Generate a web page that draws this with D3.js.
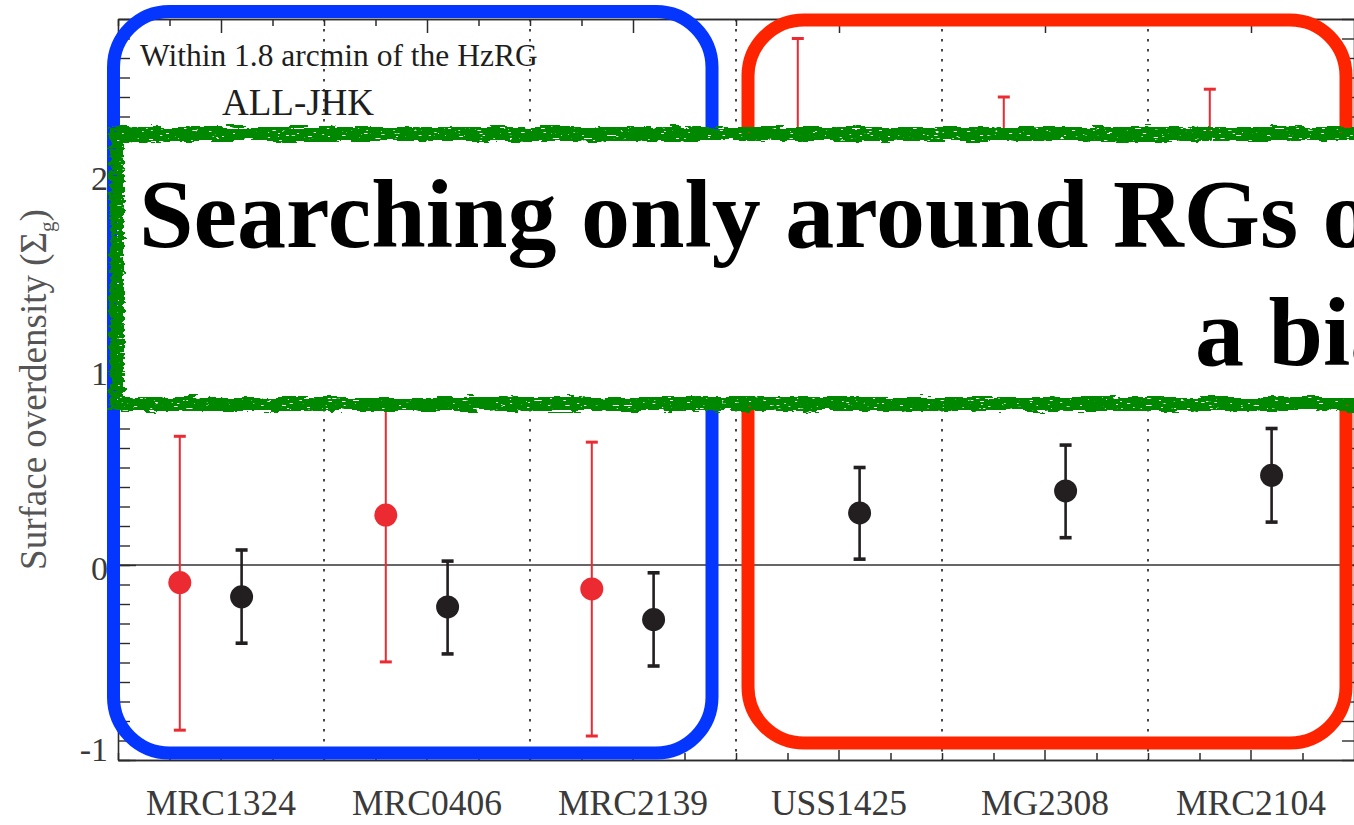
<!DOCTYPE html>
<html>
<head>
<meta charset="utf-8">
<script src="https://cdn.jsdelivr.net/npm/d3@7"></script>
<style>
  html, body { margin: 0; padding: 0; background: #fff; overflow: hidden; }
  svg { display: block; }
</style>
</head>
<body>
<svg id="chart" width="1354" height="825"></svg>
<script>
// Radio-galaxy fields along the x axis
const categories = ["MRC1324", "MRC0406", "MRC2139", "USS1425", "MG2308", "MRC2104"];

// Red sample: overdensity and the ends of its error bar
const redValues = [-0.09, 0.256, -0.123, 1.95, 1.66, 1.70];
const redLow    = [-0.847, -0.497, -0.877, 1.20, 0.92, 0.96];
const redHigh   = [0.66, 1.01, 0.63, 2.70, 2.40, 2.44];

// Black sample: overdensity and the ends of its error bar
const blackValues = [-0.163, -0.215, -0.28, 0.267, 0.38, 0.46];
const blackLow    = [-0.401, -0.456, -0.518, 0.03, 0.14, 0.22];
const blackHigh   = [0.077, 0.02, -0.04, 0.50, 0.615, 0.70];

const yTickValues = [-1, 0, 1, 2];
const yLabel = "Surface overdensity (Σ";
const ySub = "g";
const annotation1 = "Within 1.8 arcmin of the HzRG";
const annotation2 = "ALL-JHK";
const calloutLines = ["Searching only around RGs or QSOs", "a bias"];

(function draw() {
  const plotL = 118, plotR = 1354, plotT = 19, plotB = 760;

  const svg = d3.select("#chart");
  const serif = "'Liberation Serif', 'Times New Roman', serif";

  const x = d3.scaleBand().domain(categories).range([plotL, plotR]).padding(0);
  const bw = x.bandwidth();
  const xq = d3.scaleLinear().domain([0, categories.length]).range([plotL, plotR]);
  const y = d3.scaleLinear().domain([-1, 2.8]).range([plotB, plotT]);

  // hand-drawn marker look for the callout outline
  const defs = svg.append("defs");
  const f = defs.append("filter").attr("id", "rough")
    .attr("filterUnits", "userSpaceOnUse")
    .attr("x", 60).attr("y", 90).attr("width", 1400).attr("height", 360);
  f.append("feTurbulence").attr("type", "fractalNoise")
    .attr("baseFrequency", "0.05 0.25").attr("numOctaves", 3).attr("seed", 3).attr("result", "n");
  f.append("feDisplacementMap").attr("in", "SourceGraphic").attr("in2", "n")
    .attr("scale", 9).attr("xChannelSelector", "R").attr("yChannelSelector", "G").attr("result", "d");
  f.append("feTurbulence").attr("type", "fractalNoise")
    .attr("baseFrequency", "0.15 0.6").attr("numOctaves", 2).attr("seed", 11).attr("result", "n2");
  f.append("feColorMatrix").attr("in", "n2").attr("type", "matrix")
    .attr("values", "0 0 0 0 0  0 0 0 0 0  0 0 0 0 0  18 0 0 0 -12.6").attr("result", "holes");
  f.append("feComposite").attr("in", "d").attr("in2", "holes").attr("operator", "out");

  const axisColor = "#2b2b2b";
  const plot = svg.append("g");

  // dotted separators between fields
  plot.append("g").selectAll("line")
    .data(categories.slice(1))
    .join("line")
    .attr("x1", d => x(d)).attr("x2", d => x(d))
    .attr("y1", plotT).attr("y2", plotB)
    .attr("stroke", "#333").attr("stroke-width", 1.8)
    .attr("stroke-dasharray", "2.5,7.5");

  // zero line
  plot.append("line")
    .attr("x1", plotL).attr("x2", plotR)
    .attr("y1", y(0)).attr("y2", y(0))
    .attr("stroke", "#333").attr("stroke-width", 1.4);

  // quarter-band ticks on top and bottom frames
  const quarterTicks = d3.range(0, categories.length * 4).map(i => i / 4).filter(v => v % 1 !== 0.5);
  const centreTicks = categories.map((c, i) => i + 0.5);

  function frameAxis(g, axis) {
    g.call(axis);
    g.select(".domain").attr("stroke", axisColor).attr("stroke-width", 1.6);
    g.selectAll(".tick line").attr("stroke", axisColor).attr("stroke-width", 1.5);
    g.selectAll(".tick text").remove();
  }

  svg.append("g").attr("transform", `translate(0,${plotT})`)
    .call(g => frameAxis(g, d3.axisTop(xq).tickValues(quarterTicks).tickSizeInner(-7).tickSizeOuter(0)));
  svg.append("g").attr("transform", `translate(0,${plotT})`)
    .call(g => frameAxis(g, d3.axisTop(xq).tickValues(centreTicks).tickSizeInner(-14).tickSizeOuter(0)));
  svg.append("g").attr("transform", `translate(0,${plotB})`)
    .call(g => frameAxis(g, d3.axisBottom(xq).tickValues(quarterTicks).tickSizeInner(-7).tickSizeOuter(0)));

  // category labels under the band centres
  const xAxisG = svg.append("g").attr("transform", `translate(0,${plotB})`)
    .call(d3.axisBottom(x).tickSizeInner(-10).tickSizeOuter(0));
  xAxisG.select(".domain").attr("stroke", axisColor).attr("stroke-width", 1.6);
  xAxisG.selectAll(".tick line").attr("stroke", axisColor).attr("stroke-width", 1.5);
  xAxisG.selectAll(".tick text")
    .attr("y", 55).attr("dy", 0)
    .attr("font-family", serif).attr("font-size", 35.5).attr("fill", "#3a3a3a");

  // left and right frames with minor ticks every 0.1
  const minorY = d3.range(-10, 29).map(i => i / 10);
  const leftMinor = svg.append("g").attr("transform", `translate(${plotL},0)`)
    .call(d3.axisLeft(y).tickValues(minorY).tickSizeInner(-12).tickSizeOuter(0).tickFormat(""));
  const rightMinor = svg.append("g").attr("transform", `translate(${plotR},0)`)
    .call(d3.axisRight(y).tickValues(minorY).tickSizeInner(-12).tickSizeOuter(0).tickFormat(""));
  [leftMinor, rightMinor].forEach(g => {
    g.select(".domain").attr("stroke", axisColor).attr("stroke-width", 1.6);
    g.selectAll(".tick line").attr("stroke", axisColor).attr("stroke-width", 1.4);
  });

  const yAxisG = svg.append("g").attr("transform", `translate(${plotL},0)`)
    .call(d3.axisLeft(y).tickValues(yTickValues).tickSizeInner(-18).tickSizeOuter(0)
      .tickPadding(10).tickFormat(d => String(d)));
  yAxisG.select(".domain").remove();
  yAxisG.selectAll(".tick line").attr("stroke", axisColor).attr("stroke-width", 1.4);
  yAxisG.selectAll(".tick text")
    .attr("font-family", serif).attr("font-size", 34).attr("fill", "#3a3a3a")
    .attr("dy", d => d === -1 ? "0em" : "0.42em");

  // y axis title
  const yt = svg.append("text")
    .attr("transform", `translate(46, ${y(0.9)}) rotate(-90)`)
    .attr("text-anchor", "middle")
    .attr("font-family", serif).attr("font-size", 37).attr("fill", "#555");
  yt.append("tspan").text(yLabel);
  yt.append("tspan").text(ySub).attr("font-size", 21).attr("dy", 8);
  yt.append("tspan").text(")").attr("dy", -8);

  // error bars and points
  function series(vals, lows, highs, offset, color, sw) {
    const g = plot.append("g");
    const rows = categories.map((c, i) => ({ c, v: vals[i], lo: lows[i], hi: highs[i] }));
    const cx = d => x(d.c) + bw * offset;
    g.selectAll(".bar").data(rows).join("line")
      .attr("x1", cx).attr("x2", cx)
      .attr("y1", d => y(d.lo)).attr("y2", d => y(d.hi))
      .attr("stroke", color).attr("stroke-width", sw);
    ["lo", "hi"].forEach(k => {
      g.selectAll(".cap-" + k).data(rows).join("line")
        .attr("x1", d => cx(d) - 6).attr("x2", d => cx(d) + 6)
        .attr("y1", d => y(d[k])).attr("y2", d => y(d[k]))
        .attr("stroke", color).attr("stroke-width", sw + 1);
    });
    g.selectAll("circle").data(rows).join("circle")
      .attr("cx", cx).attr("cy", d => y(d.v)).attr("r", 11.5)
      .attr("fill", color);
  }
  series(redValues, redLow, redHigh, 0.3, "#ec2a31", 2);
  series(blackValues, blackLow, blackHigh, 0.6, "#231f20", 2.6);

  // annotations inside the plot
  svg.append("text").attr("x", 140).attr("y", 66)
    .attr("font-family", serif).attr("font-size", 31.5).attr("fill", "#1e1e1e")
    .text(annotation1);
  svg.append("text").attr("x", 298).attr("y", 115).attr("text-anchor", "middle")
    .attr("font-family", serif).attr("font-size", 37).attr("fill", "#1e1e1e")
    .text(annotation2);

  // grouping outlines
  svg.append("rect").attr("x", 113.5).attr("y", 11.5).attr("width", 598.5).attr("height", 741.5)
    .attr("rx", 56).attr("fill", "none").attr("stroke", "#0436ff").attr("stroke-width", 13);
  svg.append("rect").attr("x", 748).attr("y", 20).attr("width", 598).attr("height", 723)
    .attr("rx", 56).attr("fill", "none").attr("stroke", "#ff2400").attr("stroke-width", 13);

  // callout box
  svg.append("rect").attr("x", 117).attr("y", 134).attr("width", 1400).attr("height", 270)
    .attr("fill", "#fff");
  svg.append("rect").attr("x", 117).attr("y", 134).attr("width", 1400).attr("height", 270)
    .attr("fill", "none").attr("stroke", "#038803").attr("stroke-width", 14)
    .attr("filter", "url(#rough)");
  svg.append("text").attr("x", 139).attr("y", 247)
    .attr("font-family", serif).attr("font-weight", "bold").attr("font-size", 98).attr("fill", "#000")
    .text(calloutLines[0]);
  svg.append("text").attr("x", 1195).attr("y", 365)
    .attr("font-family", serif).attr("font-weight", "bold").attr("font-size", 98).attr("fill", "#000")
    .text(calloutLines[1]);
})();
</script>
</body>
</html>
